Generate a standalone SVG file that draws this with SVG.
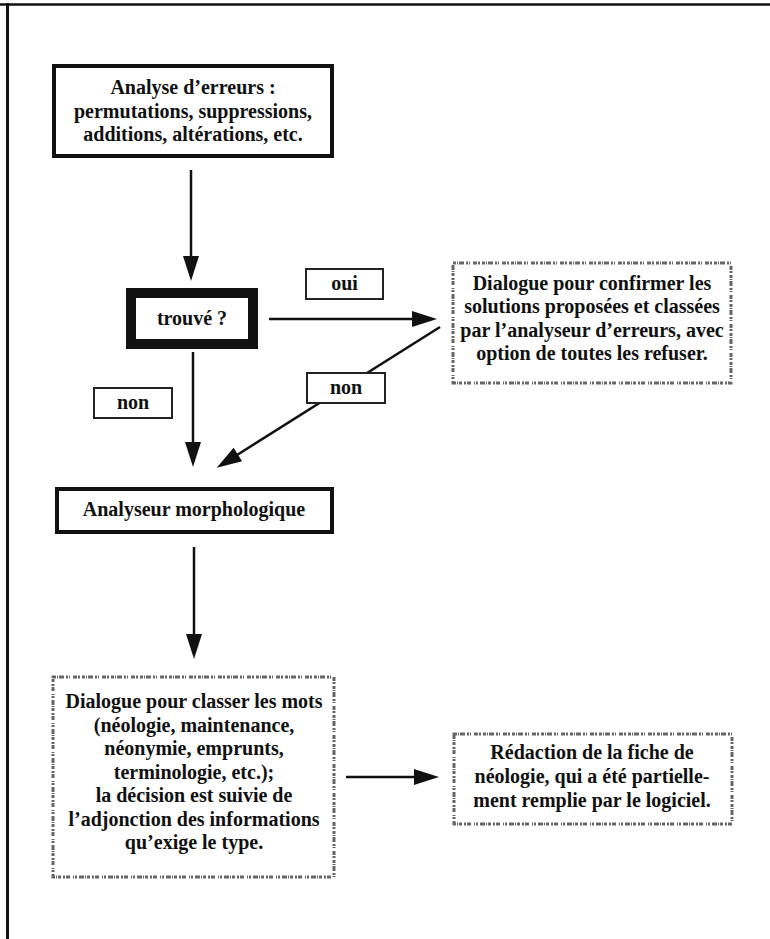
<svg xmlns="http://www.w3.org/2000/svg" width="770" height="939" viewBox="0 0 770 939">
<style>
.t{font-family:"Liberation Serif","Times New Roman",serif;font-size:20px;font-weight:bold;text-anchor:middle;fill:#111}
.box{fill:#fff;stroke:#111}
.tex{fill:#fff;stroke:#666;stroke-width:3;stroke-dasharray:3 1 1 1 5 2 2 1 1 3 4 1 2 2}
.lbl{fill:#fff;stroke:#222;stroke-width:2}
.conn line{stroke:#111;stroke-width:2.5;marker-end:url(#ah)}
.frame{stroke:#111;fill:none}
</style>
<defs>
<marker id="ah" markerUnits="userSpaceOnUse" markerWidth="26" markerHeight="16" refX="1" refY="8" orient="auto" overflow="visible">
<path d="M0,0 L25,8 L0,16 z" fill="#111"/>
</marker>
</defs>
<rect width="770" height="939" fill="#fff"/>
<g id="frame">
<line class="frame" x1="0" y1="4.5" x2="770" y2="4.5" stroke-width="2.5"/>
<line class="frame" x1="7.5" y1="3" x2="7.5" y2="939" stroke-width="3"/>
</g>
<g id="connectors" class="conn">
<line x1="191" y1="170" x2="191" y2="257"/>
<line x1="269" y1="319" x2="413" y2="319"/>
<line x1="440" y1="327" x2="237" y2="455"/>
<line x1="193" y1="352" x2="193" y2="443"/>
<line x1="194" y1="547" x2="194" y2="635"/>
<line x1="346" y1="777" x2="415" y2="777"/>
</g>
<g id="label-oui">
<rect class="lbl" x="306" y="269" width="77" height="30"/>
<text class="t" x="344.5" y="290">oui</text>
</g>
<g id="label-non-left">
<rect class="lbl" x="94" y="388" width="78" height="30"/>
<text class="t" x="133" y="409">non</text>
</g>
<g id="label-non-mid">
<rect class="lbl" x="307" y="373" width="78" height="30"/>
<text class="t" x="346" y="394">non</text>
</g>
<g id="analyse-erreurs">
<rect class="box" x="54" y="66" width="278" height="90" stroke-width="4"/>
<text class="t" x="193" y="94">Analyse d’erreurs :</text>
<text class="t" x="193" y="117.5">permutations, suppressions,</text>
<text class="t" x="193" y="141">additions, altérations, etc.</text>
</g>
<g id="trouve">
<rect class="box" x="131" y="293" width="122" height="51" stroke-width="10"/>
<text class="t" x="192" y="325">trouvé ?</text>
</g>
<g id="dialogue-confirmer">
<rect class="tex" x="453" y="263" width="278" height="120"/>
<text class="t" x="592" y="290">Dialogue pour confirmer les</text>
<text class="t" x="592" y="313">solutions proposées et classées</text>
<text class="t" x="592" y="337">par l’analyseur d’erreurs, avec</text>
<text class="t" x="592" y="360">option de toutes les refuser.</text>
</g>
<g id="analyseur-morphologique">
<rect class="box" x="57" y="489" width="275" height="43" stroke-width="4"/>
<text class="t" x="194" y="516">Analyseur morphologique</text>
</g>
<g id="dialogue-classer">
<rect class="tex" x="53" y="677" width="281" height="200"/>
<text class="t" x="194" y="708">Dialogue pour classer les mots</text>
<text class="t" x="194" y="731.5">(néologie, maintenance,</text>
<text class="t" x="194" y="755">néonymie, emprunts,</text>
<text class="t" x="194" y="778.5">terminologie, etc.);</text>
<text class="t" x="194" y="802">la décision est suivie de</text>
<text class="t" x="194" y="825.5">l’adjonction des informations</text>
<text class="t" x="194" y="849">qu’exige le type.</text>
</g>
<g id="redaction-fiche">
<rect class="tex" x="454" y="734" width="278" height="90"/>
<text class="t" x="592" y="759">Rédaction de la fiche de</text>
<text class="t" x="592" y="783">néologie, qui a été partielle-</text>
<text class="t" x="592" y="807">ment remplie par le logiciel.</text>
</g>
</svg>
